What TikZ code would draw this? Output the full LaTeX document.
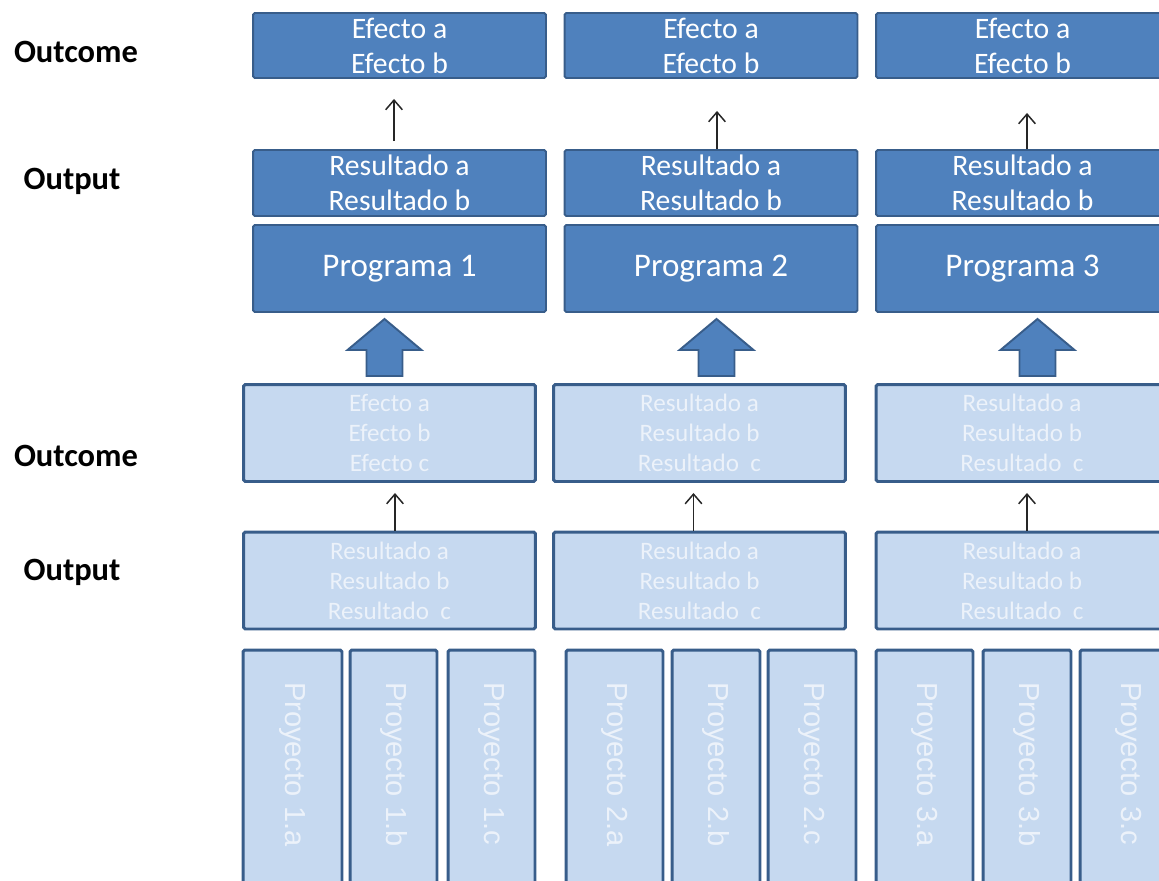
\documentclass[tikz,border=0pt]{standalone}
\usepackage{fontspec}
\setmainfont{Carlito}
\newfontfamily\projfont{Liberation Sans}
\usetikzlibrary{arrows.meta}
\definecolor{boxblue}{RGB}{79,129,189}
\definecolor{boxline}{RGB}{56,93,138}
\definecolor{paleblue}{RGB}{198,217,240}
\definecolor{paletext}{RGB}{236,242,250}
\newlength\pix
\setlength\pix{0.2mm}
\tikzset{
  darkbox/.style={draw=boxline, fill=boxblue, line width=1.1pt, rounded corners=1pt,
    text=white, minimum width=293*\pix, align=center, inner sep=0pt,
    font=\fontsize{16.9}{20}\selectfont},
  palebox/.style={draw=boxline, fill=paleblue, line width=1.7pt, rounded corners=1pt,
    text=paletext, minimum width=292*\pix, minimum height=97*\pix, align=center,
    inner sep=0pt, font=\fontsize{14.3}{17}\selectfont},
  projbox/.style={draw=boxline, fill=paleblue, line width=1.7pt, rounded corners=1pt,
    text=paletext, rotate=-90, minimum width=260*\pix, minimum height=#1*\pix,
    text width=196*\pix, align=left, inner xsep=32*\pix, inner ysep=0pt,
    font=\projfont\fontsize{16.5}{19}\selectfont},
  levellabel/.style={font=\bfseries\fontsize{18.5}{22}\selectfont},
  thinarrow/.style={-{Straight Barb[length=5.5pt,width=9.5pt]}, line width=0.85pt, draw=black!85},
  blockarrow/.style={draw=boxline, fill=boxblue, line width=1.1pt, line join=miter}
}
\begin{document}
\begin{tikzpicture}[x=0.02cm,y=-0.02cm]
  \useasboundingbox (0,0) rectangle (1159,880);
  \clip (0,0) rectangle (1159,880);

  % level labels
  \node[levellabel] (outcomeA) at (76,52) {Outcome};
  \node[levellabel] (outputA) at (72,181) {Output};
  \node[levellabel] (outcomeB) at (76,456) {Outcome};
  \node[levellabel] (outputB) at (72,572) {Output};

  % programme level
  \foreach \i/\cx in {1/399.5, 2/711, 3/1022.5} {
    \node[darkbox, minimum height=65*\pix] (eff\i) at (\cx,45.5) {Efecto a\\Efecto b};
    \node[darkbox, minimum height=66*\pix] (res\i) at (\cx,183) {Resultado a\\Resultado b};
    \node[darkbox, minimum height=87*\pix, font=\fontsize{18.8}{22}\selectfont]
      (prog\i) at (\cx,268.5) {Programa \i};
  }
  \draw[thinarrow, shorten <=8*\pix, shorten >=20*\pix]
    ([xshift=-5.5*\pix]res1.north) -- ([xshift=-5.5*\pix]eff1.south);
  \draw[thinarrow, shorten >=32*\pix] ([xshift=6*\pix]res2.north) -- ([xshift=6*\pix]eff2.south);
  \draw[thinarrow, shorten >=34*\pix] ([xshift=4.5*\pix]res3.north) -- ([xshift=4.5*\pix]eff3.south);

  % project level
  \node[palebox] (peff1) at (389.5,433) {Efecto a\\Efecto b\\Efecto c};
  \node[palebox] (peff2) at (699.5,433) {Resultado a\\Resultado b\\Resultado\ \ c};
  \node[palebox] (peff3) at (1022,433) {Resultado a\\Resultado b\\Resultado\ \ c};
  \foreach \i/\cx in {1/389.5, 2/699.5, 3/1022} {
    \node[palebox] (pres\i) at (\cx,580.5) {Resultado a\\Resultado b\\Resultado\ \ c};
  }
  \draw[thinarrow, shorten >=10*\pix] ([xshift=5.5*\pix]pres1.north) -- ([xshift=5.5*\pix]peff1.south);
  \draw[thinarrow, shorten >=10*\pix] ([xshift=-6*\pix]pres2.north) -- ([xshift=-6*\pix]peff2.south);
  \draw[thinarrow, shorten >=10*\pix] ([xshift=5*\pix]pres3.north) -- ([xshift=5*\pix]peff3.south);

  % block arrows up to the programmes
  \foreach \cx in {384.5, 716.5, 1037.5}
    \draw[blockarrow] (\cx-18,376) -- (\cx-18,350) -- (\cx-37,350) -- (\cx,319)
      -- (\cx+37,350) -- (\cx+18,350) -- (\cx+18,376) -- cycle;

  % projects
  \foreach \p/\cx/\w in {1.a/292.5/99, 1.b/393.5/87, 1.c/491.5/87,
                         2.a/614.5/97, 2.b/716/88, 2.c/812/88,
                         3.a/924.5/97, 3.b/1027/88, 3.c/1128.5/97}
    \node[projbox=\w] (proj\p) at (\cx,780) {Proyecto \p};
\end{tikzpicture}
\end{document}
